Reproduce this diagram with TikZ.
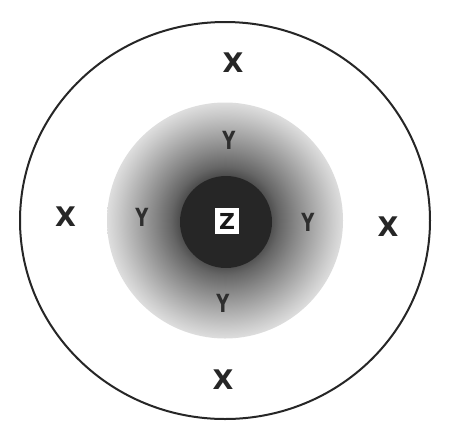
\documentclass[tikz,border=0pt]{standalone}
\usepackage{fontspec}
\setmainfont{Liberation Sans}
\newfontfamily\heavyfont{DejaVu Sans}
\pgfdeclareradialshading{halo}{\pgfpoint{0bp}{0bp}}{%
  color(0bp)=(black!70);
  color(9.5bp)=(black!70);
  color(11.5bp)=(black!60);
  color(15bp)=(black!47);
  color(19bp)=(black!33);
  color(22.5bp)=(black!21);
  color(25bp)=(black!13);
  color(50bp)=(black!13)}
\tikzset{
  xlabel/.style={font=\heavyfont\fontsize{27}{27}\selectfont\bfseries, text=black!85, inner sep=0pt},
  ylabel/.style={font=\heavyfont\fontsize{25}{25}\selectfont\bfseries, text=black!82, inner sep=0pt, xscale=0.72},
  zbox/.style={fill=white, minimum width=24pt, minimum height=26pt, inner sep=0pt,
    font=\heavyfont\fontsize{22}{22}\selectfont\bfseries, text=black!90}
}
\begin{document}
\begin{tikzpicture}[x=1pt,y=-1pt]
\useasboundingbox (0,0) rectangle (450,440);
\fill[white] (0,0) rectangle (450,440);
% outer boundary
\draw[line width=2pt, black!85] (225,220.5) ellipse [x radius=205, y radius=198.5];
% shaded halo
\shade[shading=halo] (225,220.5) circle [radius=118];
% dark core
\fill[black!85] (226,222) circle [radius=46];
% labels
\node[zbox] (z) at (227,221) {Z};
\node[xlabel] (xt) at (233,63) {X};
\node[xlabel] (xl) at (65.5,216.5) {X};
\node[xlabel] (xr) at (388,227) {X};
\node[xlabel] (xb) at (223,380) {X};
\node[ylabel] (yt) at (229,140) {Y};
\node[ylabel] (yl) at (142,217) {Y};
\node[ylabel] (yr) at (308,222) {Y};
\node[ylabel] (yb) at (223,303) {Y};
\end{tikzpicture}
\end{document}
